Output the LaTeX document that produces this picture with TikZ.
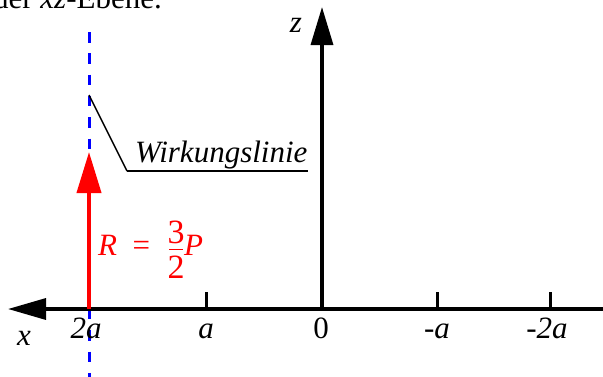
\documentclass[tikz,border=0pt]{standalone}
\usepackage{fontspec}
\setmainfont{Liberation Serif}
\usetikzlibrary{arrows.meta}
\begin{document}
\begin{tikzpicture}[x=1pt,y=-1pt,
  font=\fontsize{31}{36}\selectfont,
  axis/.style={line width=3.4pt},
  tickmark/.style={line width=3pt},
  lab/.style={inner sep=0pt,anchor=base},
  force/.style={red,line width=4pt,-{Triangle[length=41pt,width=24pt]}},
  wline/.style={blue,line width=3pt,dash pattern=on 10.5pt off 10.8pt},
  leader/.style={line width=1.4pt},
  digit/.style={red,inner sep=0pt,font=\fontsize{34}{38}\selectfont}]
\useasboundingbox (0,0) rectangle (603,376);
% partial heading line (cut off by the frame)
\node[lab,anchor=base east] (head) at (162,8) {der \textit{xz}-Ebene.};
% line of action
\coordinate (wtop) at (89,32);
\coordinate (wbot) at (89,380);
\draw[wline] (wtop) -- (wbot);
% axes
\coordinate (xr) at (603,309);
\coordinate (xl) at (8,309);
\coordinate (o) at (322,309);
\coordinate (zt) at (322,7);
\draw[axis,-{Triangle[length=38pt,width=21pt]}] (xr) -- (xl);
\draw[axis,-{Triangle[length=38pt,width=22pt]}] (o) -- (zt);
% ticks
\foreach \n/\xx in {ta/206,tma/437,tmb/550}{
  \coordinate (\n0) at (\xx,309);
  \coordinate (\n1) at (\xx,292);
  \draw[tickmark] (\n0) -- (\n1);
}
% tick labels
\node[lab] (l2a) at (86,338) {\textit{2a}};
\node[lab] (la) at (206,338) {\textit{a}};
\node[lab] (l0) at (321,338) {0};
\node[lab] (lma) at (437,338) {\textit{-a}};
\node[lab] (lmb) at (547,338) {\textit{-2a}};
\node[lab] (lx) at (24,345) {\textit{x}};
\node[lab] (lz) at (296,32) {\textit{z}};
% resultant force
\coordinate (rb) at (89,309);
\coordinate (rt) at (89,152);
\draw[force] (rb) -- (rt);
% label R = 3/2 P
\node[lab,red,anchor=base west] (rr) at (98,255) {\textit{R}\hspace{0.5em}=};
\node[digit,anchor=base] (num) at (176,243) {3};
\node[digit,anchor=north] (den) at (176,256) {2};
\coordinate (fb1) at (169,249.5);
\coordinate (fb2) at (183,249.5);
\draw[red,line width=1.5pt] (fb1) -- (fb2);
\node[lab,red,anchor=base west] (pp) at (184,255) {\textit{P}};
% leader to label
\coordinate (lp) at (89,95);
\coordinate (lk) at (127,171);
\coordinate (le) at (308,171);
\node[lab,anchor=base west] (wl) at (135,162) {\textit{Wirkungslinie}};
\draw[leader] (lp) -- (lk);
\draw[line width=2.2pt] (lk) -- (le);
\end{tikzpicture}
\end{document}
